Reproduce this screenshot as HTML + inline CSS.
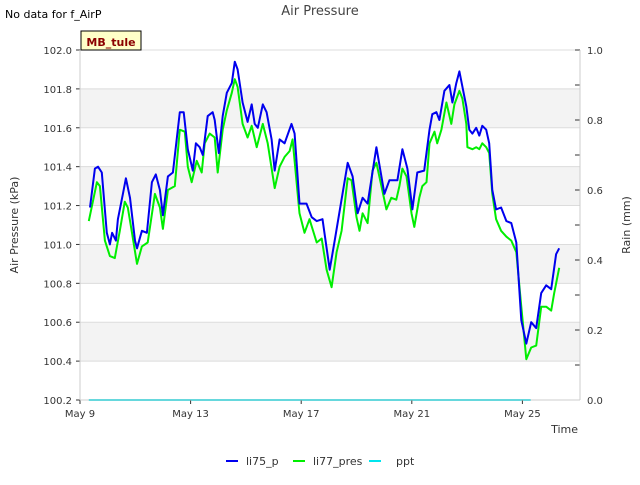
<!DOCTYPE html>
<html><head><meta charset="utf-8"><style>
body{margin:0;background:#fff;font-family:"Liberation Sans","DejaVu Sans",sans-serif;}
svg text{font-family:"DejaVu Sans","Liberation Sans",sans-serif;}
</style></head><body>
<svg id="chart" width="640" height="480" viewBox="0 0 640 480" xmlns="http://www.w3.org/2000/svg">
<text x="5" y="18" font-size="11" fill="#000">No data for f_AirP</text>
<text x="320" y="15" font-size="13" fill="#444" text-anchor="middle">Air Pressure</text>
<g id="grid"></g>
<g id="series"></g>
<g id="axes"></g>
<g>
<rect x="81" y="31" width="60" height="19" fill="#ffffc8" stroke="#000" stroke-width="1"/>
<text x="111" y="46" font-size="11" font-weight="bold" fill="#8b0000" text-anchor="middle">MB_tule</text>
</g>
<text transform="translate(18,225) rotate(-90)" font-size="11" fill="#333" text-anchor="middle">Air Pressure (kPa)</text>
<text transform="translate(630,225) rotate(-90)" font-size="11" fill="#333" text-anchor="middle">Rain (mm)</text>
<text x="578" y="433" font-size="11" fill="#333" text-anchor="end">Time</text>
<g>
<g><line x1="226" y1="461" x2="238" y2="461" stroke="#0000ee" stroke-width="2"/><text x="246" y="465" font-size="11" fill="#333">li75_p</text></g>
<g><line x1="293" y1="461" x2="305" y2="461" stroke="#00ee00" stroke-width="2"/><text x="313" y="465" font-size="11" fill="#333">li77_pres</text></g>
<g><line x1="369" y1="461" x2="381" y2="461" stroke="#00e5ee" stroke-width="2"/><text x="396" y="465" font-size="11" fill="#333">ppt</text></g>
</g>
</svg>
<script>
const blueDays=[0.36,0.54,0.65,0.79,0.97,1.08,1.16,1.30,1.37,1.55,1.66,1.81,1.99,2.06,2.24,2.42,2.60,2.74,2.89,3.00,3.18,3.36,3.61,3.75,3.90,4.08,4.19,4.33,4.44,4.62,4.80,4.87,5.02,5.16,5.31,5.49,5.60,5.70,5.88,6.06,6.21,6.32,6.43,6.61,6.75,6.93,7.04,7.22,7.40,7.65,7.76,7.94,8.19,8.38,8.56,8.77,9.03,9.21,9.68,9.86,10.04,10.22,10.40,10.72,11.01,11.19,11.48,11.66,11.84,12.02,12.20,12.45,12.64,12.74,12.89,13.00,13.18,13.36,13.47,13.61,13.72,13.97,14.08,14.19,14.33,14.44,14.55,14.69,14.80,14.91,15.05,15.23,15.42,15.60,15.78,15.96,16.14,16.32,16.50,16.68,16.86,17.04,17.22,17.33];
const blueVals=[101.19,101.39,101.40,101.37,101.06,101.00,101.06,101.02,101.13,101.26,101.34,101.24,101.02,100.98,101.07,101.06,101.32,101.36,101.28,101.15,101.35,101.37,101.68,101.68,101.49,101.38,101.52,101.50,101.46,101.66,101.68,101.64,101.47,101.66,101.78,101.83,101.94,101.90,101.73,101.63,101.72,101.62,101.60,101.72,101.68,101.54,101.38,101.54,101.52,101.62,101.57,101.21,101.21,101.14,101.12,101.13,100.87,101.02,101.42,101.35,101.16,101.24,101.21,101.50,101.26,101.33,101.33,101.49,101.39,101.18,101.37,101.38,101.59,101.67,101.68,101.64,101.79,101.82,101.73,101.83,101.89,101.71,101.59,101.57,101.60,101.56,101.61,101.59,101.52,101.28,101.18,101.19,101.12,101.11,101.01,100.61,100.49,100.60,100.57,100.75,100.79,100.77,100.95,100.98];
const greenDays=[0.32,0.61,0.72,0.90,1.08,1.26,1.44,1.62,1.73,1.88,2.06,2.24,2.45,2.71,2.89,3.00,3.18,3.43,3.61,3.79,3.90,4.04,4.22,4.40,4.51,4.69,4.87,4.98,5.16,5.31,5.49,5.60,5.70,5.88,6.06,6.21,6.39,6.61,6.79,7.04,7.22,7.40,7.58,7.69,7.94,8.12,8.30,8.56,8.74,8.92,9.10,9.28,9.46,9.68,9.82,10.00,10.11,10.22,10.40,10.58,10.72,10.90,11.08,11.26,11.44,11.55,11.66,11.81,11.99,12.09,12.27,12.38,12.53,12.64,12.82,12.92,13.07,13.25,13.43,13.54,13.72,13.83,13.97,14.01,14.19,14.33,14.44,14.55,14.69,14.80,14.91,15.05,15.23,15.42,15.60,15.78,15.96,16.14,16.32,16.50,16.68,16.86,17.04,17.15,17.33];
const greenVals=[101.12,101.32,101.30,101.02,100.94,100.93,101.07,101.22,101.19,101.06,100.90,100.99,101.01,101.26,101.19,101.08,101.28,101.30,101.59,101.58,101.40,101.32,101.43,101.37,101.52,101.57,101.55,101.37,101.59,101.69,101.78,101.85,101.81,101.62,101.55,101.61,101.50,101.62,101.52,101.29,101.40,101.45,101.48,101.54,101.16,101.06,101.13,101.01,101.03,100.87,100.78,100.96,101.07,101.34,101.33,101.14,101.07,101.16,101.11,101.38,101.42,101.30,101.18,101.24,101.23,101.30,101.39,101.35,101.16,101.09,101.24,101.30,101.32,101.52,101.58,101.52,101.59,101.73,101.62,101.72,101.79,101.75,101.62,101.50,101.49,101.50,101.49,101.52,101.50,101.47,101.26,101.13,101.07,101.04,101.02,100.96,100.68,100.41,100.47,100.48,100.68,100.68,100.66,100.75,100.88];
const pptDays=[0.32,4,8,12,16.3];
const pptVals=[0,0,0,0,0];
const yTicks=[100.2,100.4,100.6,100.8,101.0,101.2,101.4,101.6,101.8,102.0];
const y2Ticks=[0,0.2,0.4,0.6,0.8,1.0];
const xTickDays=[0,4,8,12,16];
const xTickLabels=["May 9","May 13","May 17","May 21","May 25"];

const L=80,R=580,T=50,B=400;
const xs=d=>L+d*27.65;
const ys=v=>B-(v-100.2)/1.8*(B-T);
const y2s=v=>B-v*(B-T);
const NS="http://www.w3.org/2000/svg";
function mk(tag,attrs,parent){const e=document.createElementNS(NS,tag);for(const k in attrs)e.setAttribute(k,attrs[k]);parent.appendChild(e);return e;}
const grid=document.getElementById('grid'),axes=document.getElementById('axes'),series=document.getElementById('series');
mk('rect',{x:L,y:T,width:R-L,height:B-T,fill:'#fff'},grid);
for(let i=0;i<yTicks.length-1;i++){
  if(i%2===1){const r=mk('rect',{x:L,y:ys(yTicks[i+1]),width:R-L,height:ys(yTicks[i])-ys(yTicks[i+1]),fill:'#f3f3f3'},grid);
  
  }
}
yTicks.forEach(v=>{const l=mk('line',{x1:L,x2:R,y1:ys(v),y2:ys(v),stroke:'#dcdcdc','stroke-width':1},grid);
  
  
  const t=mk('text',{x:L-8,y:ys(v)+4,'font-size':10,fill:'#333','text-anchor':'end'},axes);t.textContent=v.toFixed(1);
  
  
  mk('line',{x1:L-4,x2:L,y1:ys(v),y2:ys(v),stroke:'#333'},axes);});
for(let k=0;k<=10;k++){const v=k/10;mk('line',{x1:R-5,x2:R,y1:y2s(v),y2:y2s(v),stroke:'#333'},axes);}
y2Ticks.forEach(v=>{const t=mk('text',{x:R+7,y:y2s(v)+4,'font-size':10,fill:'#333'},axes);t.textContent=v.toFixed(1);
  
  });
xTickDays.forEach((d,i)=>{mk('line',{x1:xs(d),x2:xs(d),y1:B,y2:B+4,stroke:'#333'},axes);
  const t=mk('text',{x:xs(d),y:B+17,'font-size':10,fill:'#333','text-anchor':'middle'},axes);t.textContent=xTickLabels[i];
  
  });
mk('line',{x1:L,x2:L,y1:T,y2:B,stroke:'#ccc'},axes);
mk('line',{x1:R,x2:R,y1:T,y2:B,stroke:'#ccc'},axes);
mk('line',{x1:L,x2:R,y1:B,y2:B,stroke:'#ccc'},axes);
function path(days,vals,sc,color,name){
  const d=days.map((t,i)=>(i?'L':'M')+xs(t).toFixed(1)+','+sc(vals[i]).toFixed(1)).join('');
  const p=mk('path',{d:d,fill:'none',stroke:color,'stroke-width':2,'stroke-linejoin':'round'},series);
  
  
}
path(pptDays,pptVals,y2s,'#00e5ee','ppt-line');
path(greenDays,greenVals,ys,'#00ee00','li77-pres-line');
path(blueDays,blueVals,ys,'#0000ee','li75-p-line');
</script>
</body></html>
